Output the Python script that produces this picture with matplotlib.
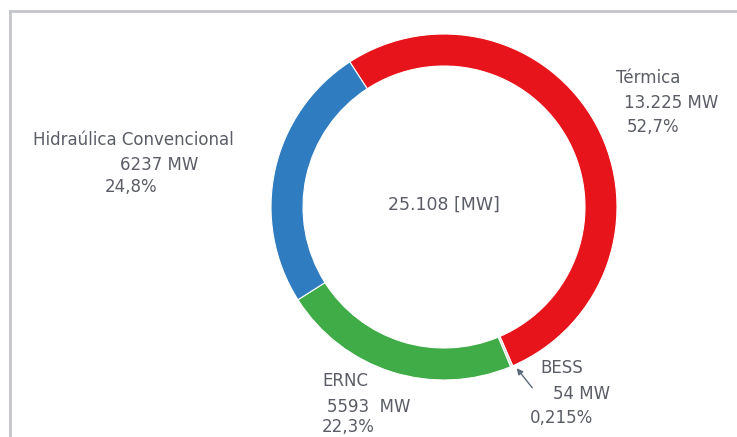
import matplotlib
matplotlib.use("Agg")
import matplotlib.pyplot as plt
from matplotlib.lines import Line2D

# Installed capacity by technology (MW)
categories = ["Térmica", "BESS", "ERNC", "Hidraúlica Convencional"]
capacity_mw = [13225, 54, 5593, 6237]
mw_labels = ["13.225 MW", "54 MW", "5593  MW", "6237 MW"]
pct_labels = ["52,7%", "0,215%", "22,3%", "24,8%"]
total_label = "25.108 [MW]"

colors = ["#e8141b", "#d9dccb", "#3fac48", "#2f7dc0"]
text_color = "#5a5d66"

W, H = 737, 437
fig = plt.figure(figsize=(W / 100, H / 100), dpi=100)
fig.patch.set_facecolor("white")

# Donut axes: centre (444, 207) px, outer radius 173 px
cx, cy, R = 444, 207, 173
ax = fig.add_axes([(cx - R) / W, (H - cy - R) / H, 2 * R / W, 2 * R / H])
ax.pie(capacity_mw, colors=colors, startangle=123, counterclock=False,
       radius=1.0, wedgeprops=dict(width=0.185, edgecolor="white", linewidth=0.8))
ax.set_xlim(-1, 1)
ax.set_ylim(-1, 1)
ax.set_aspect("equal")
ax.axis("off")

# Overlay in pixel coordinates for the frame and the labels
ov = fig.add_axes([0, 0, 1, 1], facecolor="none")
ov.set_xlim(0, W)
ov.set_ylim(H, 0)
ov.axis("off")

ov.add_line(Line2D([10, W], [11, 11], color="#c4c5cc", lw=2))
ov.add_line(Line2D([10, 10], [11, H], color="#c4c5cc", lw=2))

font = dict(family=["DejaVu Sans"], color=text_color)
fs = 12

ov.text(cx, 205, total_label, ha="center", va="center", fontsize=12.5, **font)

# Térmica
ov.text(616, 78, categories[0], ha="left", va="center", fontsize=fs, **font)
ov.text(624, 103, mw_labels[0], ha="left", va="center", fontsize=fs, **font)
ov.text(627, 127, pct_labels[0], ha="left", va="center", fontsize=fs, **font)

# Hidraúlica Convencional
ov.text(33, 140, categories[3], ha="left", va="center", fontsize=fs, **font)
ov.text(120, 165, mw_labels[3], ha="left", va="center", fontsize=fs, **font)
ov.text(105, 187, pct_labels[3], ha="left", va="center", fontsize=fs, **font)

# ERNC
ov.text(322, 381, categories[2], ha="left", va="center", fontsize=fs, **font)
ov.text(327, 407, mw_labels[2], ha="left", va="center", fontsize=fs, **font)
ov.text(322, 427, pct_labels[2], ha="left", va="center", fontsize=fs, **font)

# BESS with pointer arrow
ov.text(540, 368, categories[1], ha="left", va="center", fontsize=fs, **font)
ov.text(553, 394, mw_labels[1], ha="left", va="center", fontsize=fs, **font)
ov.text(530, 418, pct_labels[1], ha="left", va="center", fontsize=fs, **font)
ov.annotate("", xy=(515, 366), xytext=(534, 390),
            arrowprops=dict(arrowstyle="-|>", color="#5d6a7a", lw=1.0,
                            mutation_scale=9))

fig.savefig("out.png", dpi=100, facecolor="white")
